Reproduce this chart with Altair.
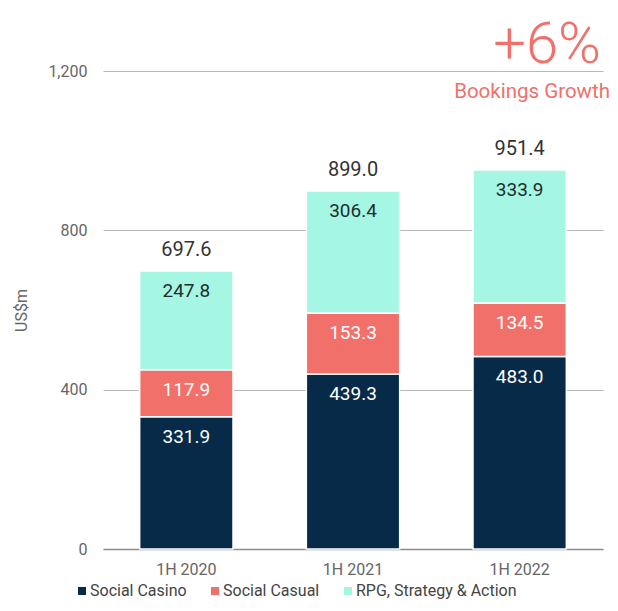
import altair as alt
import pandas as pd

periods = ["1H 2020", "1H 2021", "1H 2022"]
segments = ["Social Casino", "Social Casual", "RPG, Strategy & Action"]
social_casino = [331.9, 439.3, 483.0]
social_casual = [117.9, 153.3, 134.5]
rpg_strategy_action = [247.8, 306.4, 333.9]
totals = [697.6, 899.0, 951.4]
growth_label = ["+6%"]
growth_caption = ["Bookings Growth"]
y_ticks = [0, 400, 800, 1200]

colors = ["#072a48", "#f2706a", "#a5f7e4"]

rows = []
for i, (seg, vals) in enumerate(zip(segments, [social_casino, social_casual, rpg_strategy_action])):
    for p, v in zip(periods, vals):
        rows.append({"period": p, "segment": seg, "value": v, "order": i})
df = pd.DataFrame(rows)
tot_df = pd.DataFrame({"period": periods, "total": totals})

x_enc = alt.X(
    "period:N",
    sort=periods,
    scale=alt.Scale(paddingInner=0.44, paddingOuter=0.22),
    axis=alt.Axis(title=None, labelAngle=0, ticks=False, labelPadding=12,
                  labelFontSize=16, labelColor="#666666",
                  domainColor="#8c8c8c", domainWidth=1.5, grid=False),
)
y_scale = alt.Scale(domain=[0, 1200], nice=False)
y_axis = alt.Axis(title="US$m", values=y_ticks, format=",d", ticks=False, domain=False,
                  labelPadding=16, labelFontSize=16, labelColor="#666666",
                  titleFontSize=16, titleColor="#666666", titleFontWeight="normal",
                  titlePadding=18, gridColor="#b8b8b8", gridWidth=1)

base = alt.Chart(df).transform_stack(
    stack="value", groupby=["period"],
    sort=[alt.SortField("order", order="ascending")], as_=["y0", "y1"]
)

bars = base.mark_bar(stroke="white", strokeWidth=1.5).encode(
    x=x_enc,
    y=alt.Y("y0:Q", scale=y_scale, axis=y_axis),
    y2="y1:Q",
    color=alt.Color(
        "segment:N",
        scale=alt.Scale(domain=segments, range=colors),
        legend=alt.Legend(
            title=None, orient="none", direction="horizontal",
            legendX=-29, legendY=512, padding=0,
            symbolType="square", symbolSize=64, symbolStrokeWidth=0,
            labelFontSize=16, labelColor="#444444", labelOffset=0,
            labelLimit=300, columnPadding=20,
        ),
    ),
)

seg_labels = base.mark_text(dy=20, fontSize=19, baseline="middle").encode(
    x=x_enc,
    y=alt.Y("y1:Q", scale=y_scale, axis=y_axis),
    text=alt.Text("value:Q", format=".1f"),
    color=alt.condition("datum.segment == 'RPG, Strategy & Action'",
                        alt.value("#1f2d2d"), alt.value("white")),
)

tot_labels = alt.Chart(tot_df).mark_text(dy=-21, fontSize=20, baseline="middle", color="#333333").encode(
    x=x_enc,
    y=alt.Y("total:Q", scale=y_scale, axis=y_axis),
    text=alt.Text("total:Q", format=".1f"),
)

growth = alt.Chart(pd.DataFrame({"t": growth_label})).mark_text(
    align="right", baseline="alphabetic", fontSize=58, fontWeight=300, color="#f2706a"
).encode(x=alt.value(498), y=alt.value(-8), text="t:N")

caption = alt.Chart(pd.DataFrame({"t": growth_caption})).mark_text(
    align="right", baseline="middle", fontSize=20.5, color="#f2706a"
).encode(x=alt.value(507), y=alt.value(21), text="t:N")

chart = alt.layer(bars, seg_labels, tot_labels, growth, caption).properties(
    width=500, height=478,
    padding={"left": 95, "top": 63, "right": 7, "bottom": 54},
    autosize=alt.AutoSizeParams(type="none"),
).configure(font="Roboto").configure_view(stroke=None)

chart.save("out.html", embed_options={"renderer": "svg", "actions": False})
